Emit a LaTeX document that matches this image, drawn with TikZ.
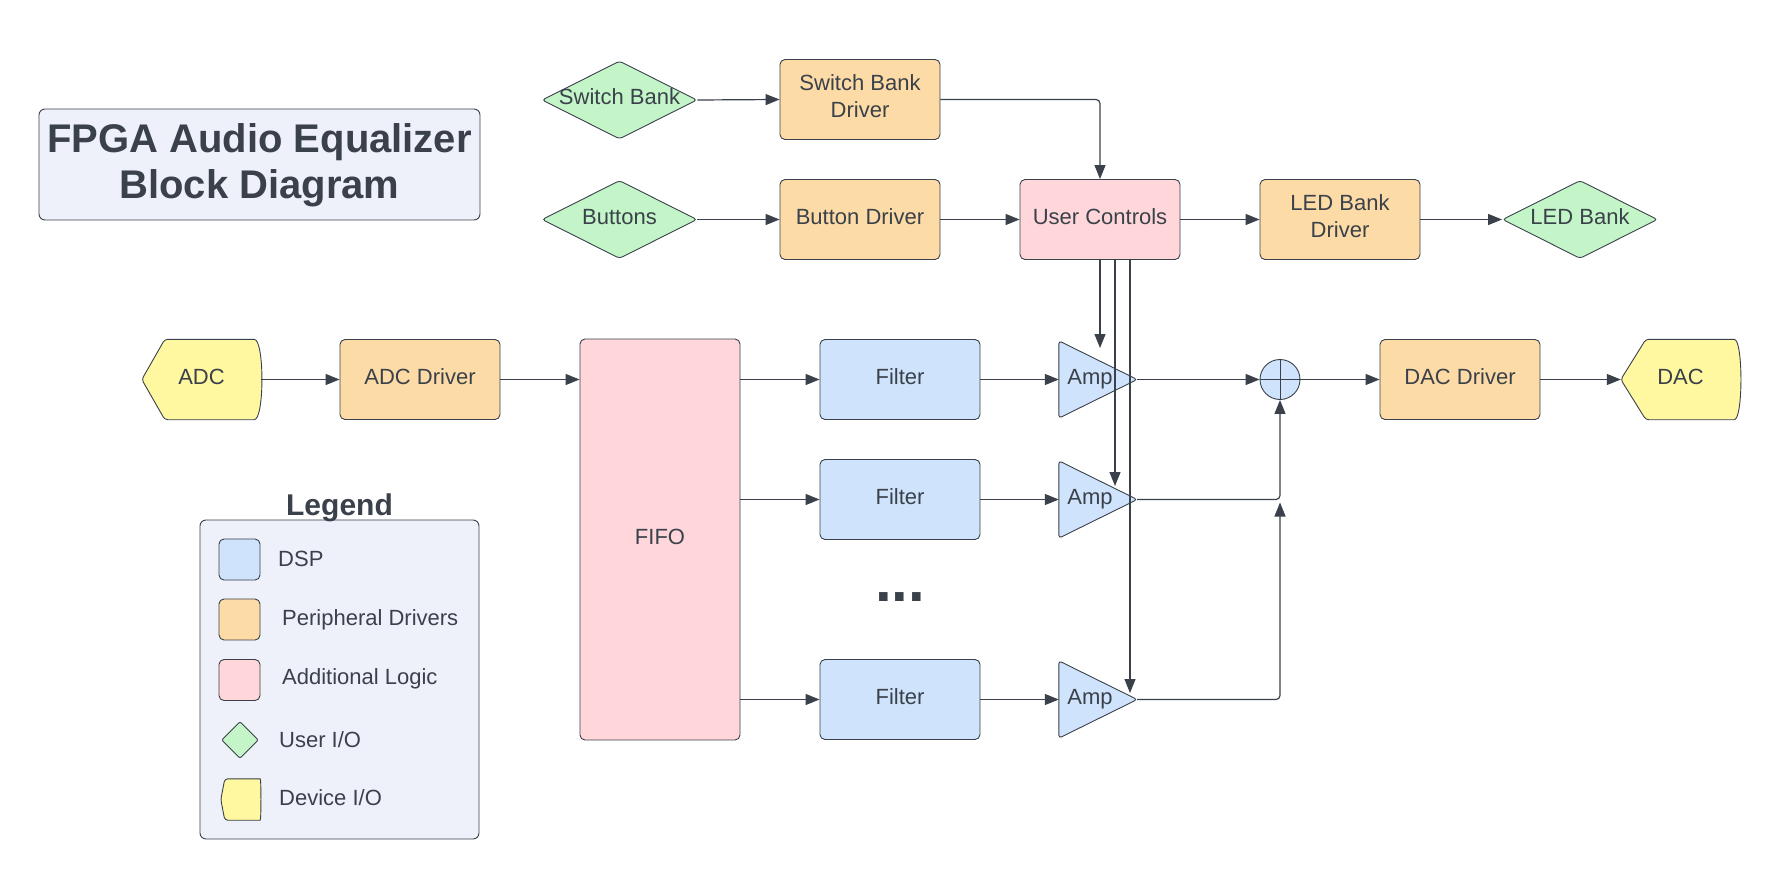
\documentclass[tikz,border=0pt]{standalone}
\usepackage{fontspec}
\setmainfont{Liberation Sans}
\usetikzlibrary{arrows.meta,shapes.geometric,backgrounds,calc}

\definecolor{ink}{RGB}{58,65,74}
\definecolor{dspblue}{RGB}{207,228,252}
\definecolor{drvorange}{RGB}{253,219,166}
\definecolor{logicpink}{RGB}{255,215,218}
\definecolor{uiogreen}{RGB}{196,245,201}
\definecolor{dioyellow}{RGB}{255,248,160}
\definecolor{panel}{RGB}{239,241,250}

% device I/O outline: pointed left side, bulging right side
% #1 node, #2 slant depth, #3 bulge depth
\newcommand\deviceoutline[3]{%
  \draw[devline] (#1.west) -- ([xshift=#2]#1.north west) -- ([xshift=-#3]#1.north east)
    .. controls ([xshift=0.333*#3]#1.north east) and ([xshift=0.333*#3]#1.south east) .. ([xshift=-#3]#1.south east)
    -- ([xshift=#2]#1.south west) -- cycle;}
% amplifier triangle inside the node's box
\newcommand\ampoutline[1]{%
  \draw[ampline] (#1.north west) -- (#1.east) -- (#1.south west) -- cycle;}

\begin{document}
\begin{tikzpicture}[x=1pt,y=-1pt,
  every node/.style={text=ink},
  lbl/.style={font=\fontsize{22}{27}\selectfont, inner sep=0pt, text depth=6pt},
  txt/.style={lbl, align=center},
  box/.style={txt, draw=ink, line width=0.9pt, rounded corners=5pt,
    minimum width=160pt, minimum height=80pt},
  dspbox/.style={box, fill=dspblue},
  drvbox/.style={box, fill=drvorange},
  logicbox/.style={box, fill=logicpink},
  uio/.style={lbl, diamond, draw=ink, fill=uiogreen, line width=0.9pt,
    rounded corners=3pt, minimum width=155pt, minimum height=78pt},
  devbox/.style={lbl, minimum width=119pt, minimum height=80pt},
  ampbox/.style={lbl, minimum width=78pt, minimum height=77pt},
  devline/.style={draw=ink, fill=dioyellow, line width=0.9pt, rounded corners=3pt},
  ampline/.style={draw=ink, fill=dspblue, line width=0.9pt, rounded corners=3pt},
  arr/.style={draw=ink, line width=1.2pt, rounded corners=4pt,
    -{Triangle[length=14pt,width=11pt]}},
  panelbox/.style={draw=ink, fill=panel, line width=0.9pt, rounded corners=6pt, inner sep=0pt},
  swatch/.style={draw=ink, line width=0.9pt, rounded corners=5pt,
    minimum width=41pt, minimum height=41pt, inner sep=0pt},
  legtext/.style={font=\fontsize{22}{27}\selectfont, anchor=base west, inner sep=0pt},
]
\useasboundingbox (0,0) rectangle (1780,880);

% ---------- title ----------
\node[panelbox, font=\bfseries\fontsize{40}{46}\selectfont, align=center, text depth=6pt,
  minimum width=441pt, minimum height=111pt] (title) at (259.5,164.5)
  {FPGA Audio Equalizer\\Block Diagram};

% ---------- user interface ----------
\node[uio] (swbank) at (619.5,100) {\makebox[0pt]{Switch Bank}};
\node[drvbox] (swdrv) at (860,99.5) {Switch Bank\\Driver};
\node[uio] (buttons) at (619.5,219.5) {\makebox[0pt]{Buttons}};
\node[drvbox] (btndrv) at (860,219.5) {Button Driver};
\node[logicbox] (uc) at (1100,219.5) {User Controls};
\node[drvbox] (leddrv) at (1340,219.5) {LED Bank\\Driver};
\node[uio] (ledbank) at (1580,219.5) {\makebox[0pt]{LED Bank}};

% ---------- audio path ----------
\node[devbox] (adc) at (201.5,379.5) {ADC};
\node[drvbox] (adcdrv) at (420,379.5) {ADC Driver};
\node[logicbox, minimum height=401pt] (fifo) at (660,539.5) {FIFO};
\node[dspbox] (f1) at (900,379.5) {Filter};
\node[dspbox] (f2) at (900,499.5) {Filter};
\node[dspbox] (f3) at (900,699.5) {Filter};
\node[font=\bfseries\fontsize{60}{60}\selectfont, anchor=base, inner sep=0pt] (dots) at (900,601) {...};
\node[ampbox] (a1) at (1098,379.5) {\hspace*{-16pt}Amp};
\node[ampbox] (a2) at (1098,499.5) {\hspace*{-16pt}Amp};
\node[ampbox] (a3) at (1098,699.5) {\hspace*{-16pt}Amp};
\node[circle, draw=ink, fill=dspblue, line width=0.9pt, minimum size=40pt, inner sep=0pt,
  path picture={\draw[ink, line width=0.9pt]
    (path picture bounding box.north) -- (path picture bounding box.south)
    (path picture bounding box.west) -- (path picture bounding box.east);}] (sum) at (1280,379.5) {};
\node[drvbox] (dacdrv) at (1460,379.5) {DAC Driver};
\node[devbox] (dac) at (1680.5,379.5) {DAC};

% ---------- legend ----------
\begin{pgfonlayer}{background}
  \node[panelbox, minimum width=279pt, minimum height=319pt] (legend) at (339.5,679.5) {};
\end{pgfonlayer}
\node[font=\bfseries\fontsize{30}{36}\selectfont, anchor=base, inner sep=0pt] (legtitle) at (339.5,515) {Legend};
\node[swatch, fill=dspblue] (swdsp) at (239.5,559.5) {};
\node[swatch, fill=drvorange] (swdrvkey) at (239.5,619.5) {};
\node[swatch, fill=logicpink] (swlogic) at (239.5,680) {};
\node[diamond, draw=ink, fill=uiogreen, line width=0.9pt, minimum size=37pt,
  inner sep=0pt, rounded corners=2pt] (swuio) at (240,740) {};
\node[minimum width=39pt, minimum height=41pt, inner sep=0pt] (swdev) at (240.5,799.5) {};
\node[legtext] (ldsp) at (278,566) {DSP};
\node[legtext] (ldrv) at (282,625) {Peripheral Drivers};
\node[legtext] (llogic) at (282,684) {Additional Logic};
\node[legtext] (luio) at (279,747) {User I/O};
\node[legtext] (ldev) at (279,805) {Device I/O};

% ---------- outlines drawn beneath their labels ----------
\begin{pgfonlayer}{background}
  \deviceoutline{adc}{23pt}{10pt}
  \deviceoutline{dac}{25pt}{9pt}
  \deviceoutline{swdev}{4pt}{3pt}
  \ampoutline{a1}
  \ampoutline{a2}
  \ampoutline{a3}
\end{pgfonlayer}

% ---------- connectors ----------
\coordinate (amp1in) at (1100,348);
\coordinate (amp2in) at (1115,486);
\coordinate (amp3in) at (1130,693);
\coordinate (merge) at ($(sum.south |- a2.east)+(0,3)$);

\draw[arr] (swbank.east) -- (swdrv.west);
\draw[arr] (buttons.east) -- (btndrv.west);
\draw[arr] (btndrv.east) -- (uc.west);
\draw[arr] (swdrv.east) -| (uc.north);
\draw[arr] (uc.east) -- (leddrv.west);
\draw[arr] (leddrv.east) -- (ledbank.west);

\draw[arr] (uc.south) -- (amp1in);
\draw[arr] ([xshift=15pt]uc.south) -- (amp2in);
\draw[arr] ([xshift=30pt]uc.south) -- (amp3in);

\draw[arr] (adc.east) -- (adcdrv.west);
\draw[arr] (adcdrv.east) -- (fifo.west |- adcdrv.east);
\draw[arr] (fifo.east |- f1.west) -- (f1.west);
\draw[arr] (fifo.east |- f2.west) -- (f2.west);
\draw[arr] (fifo.east |- f3.west) -- (f3.west);
\draw[arr] (f1.east) -- (a1.west);
\draw[arr] (f2.east) -- (a2.west);
\draw[arr] (f3.east) -- (a3.west);
\draw[arr] (a1.east) -- (sum.west);
\draw[arr] (a2.east) -| (sum.south);
\draw[arr] (a3.east) -| (merge);
\draw[arr] (sum.east) -- (dacdrv.west);
\draw[arr] (dacdrv.east) -- (dac.west);

\end{tikzpicture}
\end{document}
